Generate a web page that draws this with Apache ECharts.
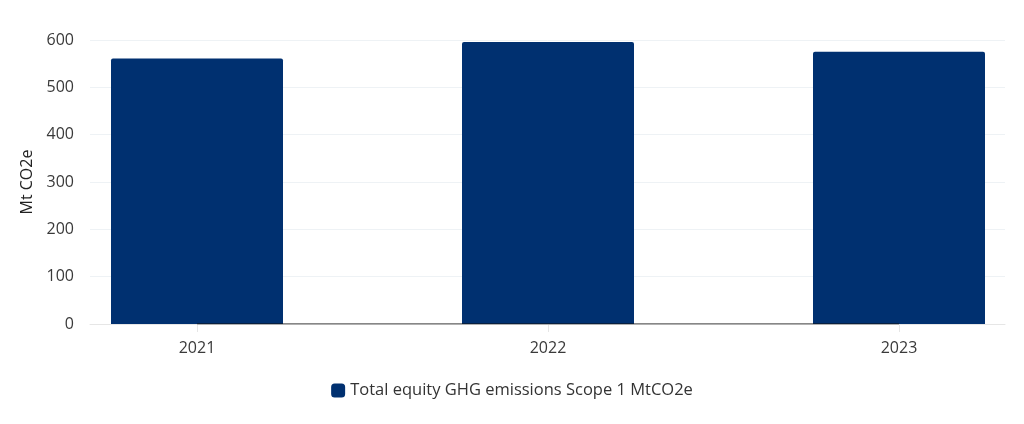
<!DOCTYPE html>
<html>
<head>
<meta charset="utf-8">
<script src="https://cdn.jsdelivr.net/npm/echarts@6/dist/echarts.min.js"></script>
<style>
  html, body { margin: 0; padding: 0; background: #fff; }
  #main { width: 1024px; height: 424px; }
</style>
</head>
<body>
<div id="main"></div>
<script>
// chart data
const years = ['2021', '2022', '2023'];
const scope1 = [561, 596, 575];
const baseline = [0, 0, 0];
const yTicks = [0, 100, 200, 300, 400, 500, 600];
const seriesName = 'Total equity GHG emissions Scope 1 MtCO2e';

const FONT = '"Open Sans", "DejaVu Sans", sans-serif';
const yMin = yTicks[0], yMax = yTicks[yTicks.length - 1], yStep = yTicks[1] - yTicks[0];

const chart = echarts.init(document.getElementById('main'));
chart.setOption({
  animation: false,
  backgroundColor: '#ffffff',
  textStyle: { fontFamily: FONT },
  // grid 0: the frame (gridlines, y labels, long light axis line)
  // grid 1: the bars, categories pinned at the ends (boundaryGap off)
  grid: [
    { left: 90, right: 19, top: 40, bottom: 100 },
    { left: 197, right: 125, top: 40, bottom: 100 }
  ],
  legend: {
    data: [seriesName],
    bottom: 20,
    left: 'center',
    icon: 'roundRect',
    itemWidth: 14,
    itemHeight: 14,
    itemGap: 5,
    textStyle: { fontSize: 16.5, color: '#333', fontFamily: FONT }
  },
  xAxis: [
    {
      gridIndex: 0,
      type: 'category',
      data: years,
      axisLine: { lineStyle: { color: '#e6e6e6', width: 1 } },
      axisTick: { show: false },
      axisLabel: { show: false }
    },
    {
      gridIndex: 1,
      type: 'category',
      data: years,
      boundaryGap: false,
      axisLine: { show: false },
      axisTick: { show: true, length: 8, lineStyle: { color: '#e6e6e6' } },
      axisLabel: { fontSize: 16, color: '#3a3a3a', margin: 16, fontFamily: FONT },
      splitLine: { show: false }
    }
  ],
  yAxis: [
    {
      gridIndex: 0,
      type: 'value',
      min: yMin,
      max: yMax,
      interval: yStep,
      name: 'Mt CO2e',
      nameLocation: 'middle',
      nameGap: 54,
      nameTextStyle: { fontSize: 16, color: '#222', fontFamily: FONT },
      axisLine: { show: false },
      axisTick: { show: false },
      axisLabel: { fontSize: 16, color: '#3a3a3a', margin: 16, fontFamily: FONT },
      splitLine: { lineStyle: { color: '#eef2f5', width: 1 } }
    },
    {
      gridIndex: 1,
      type: 'value',
      min: yMin,
      max: yMax,
      interval: yStep,
      show: false
    }
  ],
  series: [
    {
      name: seriesName,
      type: 'bar',
      xAxisIndex: 1,
      yAxisIndex: 1,
      data: scope1,
      barWidth: 172,
      itemStyle: { color: '#003070', borderRadius: [2, 2, 0, 0] }
    },
    {
      name: 'baseline',
      type: 'line',
      xAxisIndex: 1,
      yAxisIndex: 1,
      data: baseline,
      symbol: 'none',
      lineStyle: { color: '#111', width: 1.2 },
      z: 5
    }
  ]
});
</script>
</body>
</html>
